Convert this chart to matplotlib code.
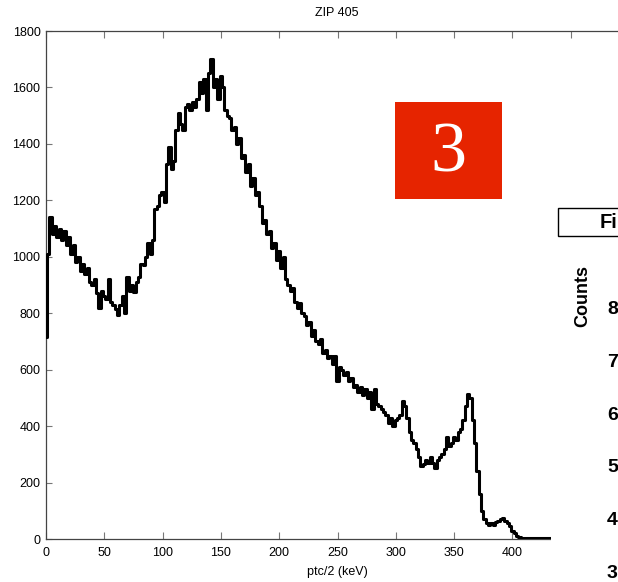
import matplotlib
matplotlib.use("Agg")
import matplotlib.pyplot as plt
from matplotlib.patches import Rectangle
import numpy as np

# ---------------- data ----------------
bin_width = 2
counts = [
    715, 1010, 1140, 1080, 1110, 1070, 1100, 1060, 1090, 1040,   # 0-18
    1070, 1010, 1040, 980, 1000, 950, 975, 940, 960, 910,        # 20-38
    900, 920, 870, 820, 880, 860, 850, 920, 840, 830,            # 40-58
    815, 795, 830, 860, 800, 930, 880, 900, 875, 910,            # 60-78
    930, 975, 970, 1000, 1050, 1010, 1060, 1170, 1180, 1220,     # 80-98
    1230, 1195, 1330, 1390, 1310, 1340, 1450, 1510, 1470, 1450,  # 100-118
    1530, 1540, 1520, 1550, 1530, 1560, 1620, 1580, 1630, 1520,  # 120-138
    1650, 1700, 1600, 1630, 1560, 1640, 1600, 1520, 1500, 1490,  # 140-158
    1450, 1460, 1400, 1420, 1350, 1360, 1300, 1330, 1250, 1280,  # 160-178
    1220, 1230, 1180, 1120, 1130, 1080, 1090, 1030, 1050, 990,   # 180-198
    1020, 960, 1000, 920, 900, 880, 890, 840, 820, 835,          # 200-218
    800, 790, 760, 770, 720, 740, 700, 690, 710, 660,            # 220-238
    670, 640, 650, 620, 650, 560, 610, 600, 580, 590,            # 240-258
    560, 570, 540, 545, 520, 540, 510, 530, 500, 520,            # 260-278
    460, 530, 480, 470, 460, 450, 440, 410, 430, 400,            # 280-298
    420, 430, 440, 490, 470, 430, 380, 350, 340, 320,            # 300-318
    290, 260, 265, 280, 270, 290, 270, 250, 280, 290,            # 320-338
    300, 320, 360, 330, 340, 360, 350, 380, 390, 420,            # 340-358
    470, 515, 500, 420, 340, 240, 160, 100, 70, 55,              # 360-378
    50, 55, 50, 60, 65, 70, 75, 65, 55, 45,                      # 380-398
    30, 20, 12, 6, 4, 3, 2, 3, 2, 2,                             # 400-418
    3, 2, 2, 3, 2, 2, 2                                          # 420-432
]
energies = np.arange(len(counts)) * bin_width

x_ticks = [0, 50, 100, 150, 200, 250, 300, 350, 400, 450]
y_ticks = [0, 200, 400, 600, 800, 1000, 1200, 1400, 1600, 1800]
title_text = "ZIP 405"
xlabel_text = "ptc/2 (keV)"
badge_text = "3"
overlay_title = "Fi"
overlay_ylabel = "Counts"
overlay_ticks = ["8", "7", "6", "5", "4", "3"]

# ---------------- figure ----------------
W, H = 618, 582
fig = plt.figure(figsize=(W / 100, H / 100), dpi=100)


def fx(px):
    return px / W


def fy(py):
    return 1 - py / H


ax_left, ax_right, ax_top, ax_bottom = 46, 629, 31, 539
ax = fig.add_axes([fx(ax_left), fy(ax_bottom), (ax_right - ax_left) / W,
                   (ax_bottom - ax_top) / H])

ax.step(energies, counts, where="mid", color="black", lw=2.2, zorder=3)
ax.set_xlim(0, 500)
ax.set_ylim(0, 1800)
ax.set_xticks(x_ticks)
ax.set_yticks(y_ticks)

font = "Liberation Sans"
for lab in ax.get_xticklabels() + ax.get_yticklabels():
    lab.set_fontfamily(font)
ax.tick_params(axis="x", direction="in", length=5, width=0.8, color="#777777",
               labelsize=9, pad=6, top=True, labelcolor="black")
ax.tick_params(axis="y", direction="in", length=4, width=0.8, color="#777777",
               labelsize=9, pad=4, labelcolor="black")
for side in ["left", "bottom", "top"]:
    ax.spines[side].set_color("#444444")
    ax.spines[side].set_linewidth(0.9)
ax.spines["right"].set_visible(False)

fig.text(fx(337), fy(13), title_text, ha="center", va="center",
         fontsize=9, family=font)
fig.text(fx(337), fy(572), xlabel_text, ha="center", va="center",
         fontsize=9, family=font)

# red badge
fig.add_artist(Rectangle((fx(395), fy(199)), (502 - 395) / W, (199 - 102) / H,
                         transform=fig.transFigure, facecolor="#E62400",
                         edgecolor="none", zorder=10))
fig.text(fx(448), fy(154), badge_text, ha="center", va="center",
         fontsize=52, family="Liberation Serif", color="white", zorder=11)

# overlapping second chart on the right
fig.add_artist(Rectangle((fx(551), 0), (W - 551) / W + 0.01, fy(45),
                         transform=fig.transFigure, facecolor="white",
                         edgecolor="none", zorder=10))
fig.add_artist(Rectangle((fx(558), fy(236)), (W + 20 - 558) / W, (236 - 208) / H,
                         transform=fig.transFigure, facecolor="white",
                         edgecolor="black", lw=1.0, zorder=11, clip_on=False))
fig.text(fx(600), fy(222), overlay_title, ha="left", va="center",
         fontsize=14.5, family=font, weight="bold", zorder=12)
fig.text(fx(583), fy(296), overlay_ylabel, ha="center", va="center",
         rotation=90, fontsize=13, family=font, weight="bold", zorder=12)
for i, t in enumerate(overlay_ticks):
    fig.text(fx(607), fy(310 + i * 52.6), t, ha="left", va="center",
             fontsize=14, family=font, weight="bold", zorder=12)

fig.savefig("out.png", dpi=100)
